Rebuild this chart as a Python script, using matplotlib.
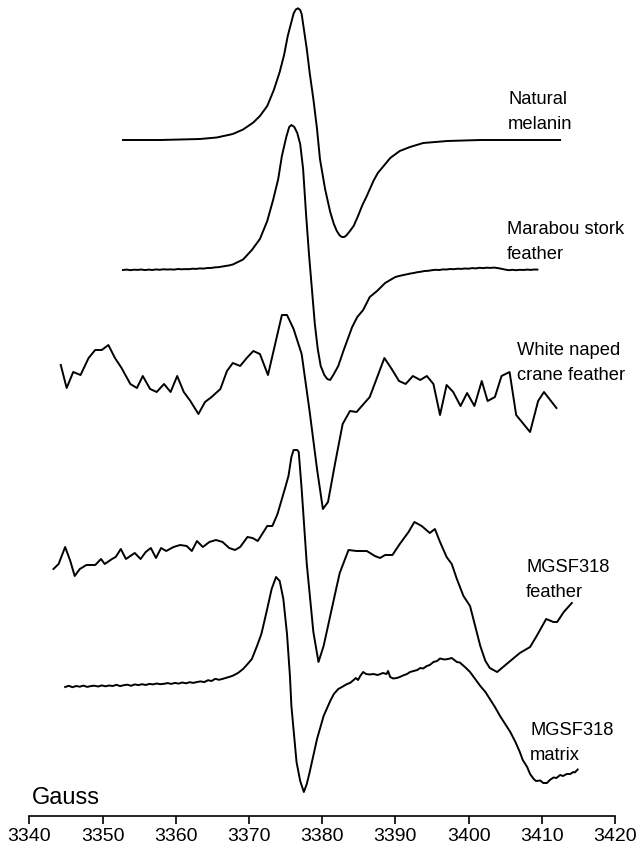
import matplotlib
matplotlib.use('Agg')
import matplotlib.pyplot as plt

plt.rcParams['font.family'] = ['Liberation Sans', 'DejaVu Sans']

# EPR spectra, field in Gauss, signal in arbitrary units (0 = baseline)
melanin_x = [3352.8, 3357.9, 3363.3, 3365.6, 3367.8, 3369.2, 3370.6, 3371.5, 3372.5, 3373.4,
             3374.2, 3374.8, 3375.3, 3375.8, 3376.1, 3376.4, 3376.7, 3377.0, 3377.2, 3377.5,
             3377.9, 3378.3, 3378.8, 3379.3, 3379.7, 3380.4, 3381.1, 3381.6, 3382.0, 3382.4,
             3382.7, 3383.0, 3383.3, 3383.8, 3384.3, 3384.9, 3385.5, 3386.1, 3387.0, 3387.6,
             3388.4, 3389.3, 3390.6, 3392.0, 3393.8, 3397.1, 3401.6, 3407.0, 3412.5]
melanin_y = [0, 0, 1, 2.5, 6, 10.5, 17.5, 24, 34, 50,
             68, 85, 104, 118, 126.5, 130.5, 131.7, 130, 126, 111,
             91, 67, 41, 11, -19, -49, -72, -84, -91, -95.5,
             -97, -97, -95.5, -91, -86, -76, -65, -56, -41, -33,
             -26, -18, -11, -7, -3, -1, 0, 0, 0]

marabou_x = [3352.8, 3353.3, 3353.8, 3354.3, 3354.8, 3355.3, 3355.8, 3356.3, 3356.8, 3357.3,
             3357.8, 3358.3, 3358.8, 3359.3, 3359.8, 3360.3, 3360.8, 3361.3, 3361.8, 3362.3,
             3362.8, 3363.3, 3363.8, 3364.3, 3364.8, 3365.3, 3365.8, 3366.3, 3366.8, 3367.3,
             3367.8, 3369.2, 3370.4, 3371.5, 3372.5, 3373.3, 3374.0, 3374.5, 3375.1, 3375.5,
             3375.8, 3376.2, 3376.6, 3377.0, 3377.4, 3377.8, 3378.2, 3378.6, 3379.0, 3379.4,
             3379.8, 3380.3, 3380.7, 3381.1, 3381.6, 3382.2, 3382.9, 3383.5, 3384.1, 3384.8,
             3385.6, 3386.5, 3387.5, 3388.6, 3390.0, 3390.5, 3391.0, 3391.5, 3392.0, 3392.5,
             3393.0, 3393.5, 3394.0, 3394.5, 3395.0, 3395.5, 3396.0, 3396.5, 3397.0, 3397.5,
             3398.0, 3398.5, 3399.0, 3399.5, 3400.0, 3400.5, 3401.0, 3401.5, 3402.0, 3402.5,
             3403.0, 3403.5, 3404.0, 3404.5, 3405.0, 3405.5, 3406.0, 3406.5, 3407.0, 3407.5,
             3408.0, 3408.5, 3409.0, 3409.4]
marabou_y = [0.0, 0.4, -0.2, 0.3, 0.1, 0.5, -0.1, 0.4, 0.0, 0.6,
             0.2, 0.7, 0.5, 0.6, 0.4, 1.0, 0.7, 0.9, 0.8, 1.3,
             1.1, 1.6, 1.4, 2.0, 2.0, 2.6, 2.8, 3.4, 4.0, 4.6,
             5.5, 10.5, 20, 31, 49, 70, 91, 114, 133, 143,
             145, 143, 137, 126, 101, 56, 16, -19, -54, -79,
             -96, -105, -109, -110, -104, -96, -81, -69, -57, -47,
             -40, -27, -21, -13, -7, -6.0, -5.2, -4.4, -3.6, -3.0,
             -2.2, -1.7, -1.0, -0.8, -0.2, 0.2, 0.0, 0.6, 0.5, 1.0,
             0.8, 1.3, 1.1, 1.5, 1.3, 1.9, 1.6, 2.2, 1.9, 2.3,
             2.1, 2.4, 1.9, 1.2, 0.4, -0.2, 0.2, -0.2, 0.2, 0.0,
             0.4, 0.1, 0.5, 0.4]

crane_x = [3344.3, 3345.1, 3346.0, 3347.0, 3348.1, 3349.0, 3349.9, 3350.8, 3351.7, 3352.6,
           3353.8, 3354.7, 3355.5, 3356.5, 3357.4, 3358.4, 3359.3, 3360.2, 3361.1, 3362.0,
           3363.1, 3364.0, 3364.9, 3366.1, 3367.0, 3367.8, 3368.8, 3369.7, 3370.6, 3371.5,
           3372.6, 3374.5, 3375.2, 3376.1, 3377.2, 3378.3, 3379.3, 3380.1, 3380.8, 3381.8,
           3382.8, 3383.8, 3384.7, 3386.5, 3388.5, 3389.5, 3390.5, 3391.4, 3392.4, 3393.4,
           3394.3, 3395.2, 3396.1, 3397.0, 3397.9, 3398.9, 3399.8, 3400.8, 3401.8, 3402.6,
           3403.6, 3404.5, 3405.6, 3406.5, 3408.4, 3409.5, 3410.3, 3412.0]
crane_y = [19, -4, 12, 9, 26, 34, 34, 39, 26, 16,
           0, -4, 8, -5, -8, 0, -8, 8, -8, -17,
           -30, -18, -13, -5, 13, 21, 18, 26, 33, 30,
           9, 69, 69, 55, 30, -28, -85, -125, -118, -78,
           -40, -27, -28, -13, 26, 15, 3, 0, 8, 4,
           8, 0, -31, -1, -8, -22, -9, -22, 3, -17,
           -13, 8, 12, -31, -48, -17, -8, -24]

feather_x = [3343.3, 3344.0, 3344.9, 3345.6, 3346.2, 3346.9, 3347.8, 3349.0, 3349.8, 3350.3,
             3351.3, 3351.8, 3352.5, 3353.2, 3354.4, 3355.2, 3355.9, 3356.6, 3357.3, 3358.0,
             3358.7, 3359.7, 3360.6, 3361.5, 3362.2, 3362.9, 3363.7, 3364.6, 3365.5, 3366.4,
             3367.3, 3368.1, 3368.8, 3369.8, 3370.5, 3371.2, 3371.9, 3372.5, 3373.2, 3373.9,
             3374.3, 3374.9, 3375.4, 3375.8, 3376.1, 3376.6, 3376.8, 3377.2, 3377.9, 3378.8,
             3379.5, 3380.2, 3381.1, 3382.0, 3382.4, 3383.6, 3384.7, 3386.1, 3387.2, 3387.9,
             3388.6, 3389.6, 3390.6, 3391.8, 3392.6, 3393.6, 3394.7, 3395.4, 3396.1, 3397.0,
             3397.7, 3398.4, 3399.3, 3400.2, 3400.9, 3401.6, 3402.3, 3402.9, 3403.9, 3405.2,
             3407.0, 3408.4, 3409.3, 3410.6, 3411.6, 3412.1, 3413.0, 3414.1]
feather_y = [-5, 0, 17, 3, -12, -5, -1, -1, 5, 0,
             5, 7, 15, 5, 11, 5, 12, 16, 6, 16,
             13, 17, 19, 18, 13, 23, 17, 22, 24, 22,
             16, 14, 17, 27, 26, 23, 31, 38, 38, 50,
             60, 75, 88, 107, 114, 114, 112, 75, 0, -68,
             -98, -82, -52, -22, -9, 14, 13, 13, 8, 6,
             9, 9, 20, 32, 42, 38, 31, 35, 22, 7,
             0, -15, -32, -42, -62, -82, -97, -104, -108, -100,
             -89, -83, -72, -55, -58, -58, -48, -39]

matrix_x = [3344.9, 3345.4, 3345.9, 3346.4, 3346.9, 3347.4, 3347.9, 3348.4, 3348.9, 3349.4,
            3349.9, 3350.4, 3350.9, 3351.4, 3351.9, 3352.4, 3352.9, 3353.4, 3353.9, 3354.4,
            3354.9, 3355.4, 3355.9, 3356.4, 3356.9, 3357.4, 3357.9, 3358.4, 3358.9, 3359.4,
            3359.9, 3360.4, 3360.9, 3361.4, 3361.9, 3362.4, 3362.9, 3363.4, 3363.9, 3364.4,
            3364.9, 3365.4, 3365.9, 3366.4, 3366.9, 3367.4, 3367.8, 3368.5, 3369.2, 3369.7,
            3370.4, 3371.1, 3371.7, 3372.4, 3373.1, 3373.7, 3374.2, 3374.7, 3375.2, 3375.6,
            3375.8, 3376.5, 3377.0, 3377.5, 3377.9, 3378.3, 3379.3, 3380.2, 3381.1, 3381.6,
            3382.2, 3382.7, 3383.4, 3383.8, 3384.3, 3384.6, 3384.9, 3385.2, 3385.6, 3386.0,
            3386.5, 3387.0, 3387.6, 3388.3, 3388.8, 3389.0, 3389.3, 3389.7, 3390.2, 3390.6,
            3391.2, 3391.6, 3392.0, 3392.5, 3393.0, 3393.4, 3393.8, 3394.3, 3394.7, 3395.2,
            3395.7, 3396.1, 3396.7, 3397.2, 3397.7, 3398.4, 3398.8, 3399.5, 3400.2, 3400.9,
            3401.6, 3402.3, 3402.9, 3403.6, 3404.3, 3405.0, 3405.7, 3406.4, 3407.0, 3407.4,
            3408.0, 3408.4, 3408.9, 3409.2, 3409.8, 3410.2, 3410.7, 3411.1, 3411.6, 3412.0,
            3412.5, 3412.9, 3413.4, 3413.9, 3414.3, 3414.5, 3414.9]
matrix_y = [0, 1.2, -0.2, 1.0, 0.3, 1.4, 0.1, 0.9, 1.3, 0.5,
            1.6, 0.7, 1.5, 1.0, 2.2, 0.9, 1.8, 2.3, 1.2, 2.6,
            1.9, 2.8, 2.0, 3.1, 2.6, 3.5, 2.8, 3.2, 3.9, 3.1,
            4.1, 3.4, 4.5, 3.7, 4.8, 4.1, 5.0, 5.6, 4.9, 6.8,
            6.0, 8.2, 7.2, 8.1, 9.2, 10.3, 11.3, 14, 18, 22,
            28, 41, 53, 75, 98, 110, 106, 88, 53, 11,
            -19, -75, -94, -105, -97, -85, -52, -29, -14, -7,
            -2, 0, 3, 4, 7, 9, 7, 11, 15, 13,
            12.5, 13, 12, 14, 13, 16, 10, 8.5, 9, 10,
            12, 13, 15, 16, 17, 19, 18.5, 21, 22, 25,
            26, 28.5, 27.5, 28, 29, 25, 24.5, 20, 15, 8,
            1, -5, -12, -20, -29, -37, -45, -55, -65, -73,
            -80, -87, -92, -94, -93.5, -96, -96, -93, -90.5, -91,
            -88, -89, -87, -87, -85, -85.5, -82.5]

traces = [
    (melanin_x, melanin_y, 'Natural\nmelanin'),
    (marabou_x, marabou_y, 'Marabou stork\nfeather'),
    (crane_x, crane_y, 'White naped\ncrane feather'),
    (feather_x, feather_y, 'MGSF318\nfeather'),
    (matrix_x, matrix_y, 'MGSF318\nmatrix'),
]

# vertical stacking offsets and label spots (pixels of the 641x845 canvas)
offsets = [676, 546, 432, 252, 129]
label_px = [(508, 91), (507, 221), (517, 342), (526, 559), (530, 722)]

W, H = 641, 845
fig = plt.figure(figsize=(W / 100, H / 100), dpi=100)
ax = fig.add_axes([29.3 / W, 28 / H, (615 - 29.3) / W, 817 / H])

for (xs, ys, name), off in zip(traces, offsets):
    ax.plot(xs, [v + off for v in ys], color='black', lw=1.4, solid_joinstyle='round')

for (xs, ys, name), (px, py) in zip(traces, label_px):
    fig.text(px / W, 1 - py / H, name, fontsize=13.2, va='top', ha='left',
             linespacing=1.62)

ax.set_xlim(3340, 3420)
ax.set_ylim(0, 817)
ax.set_xticks(range(3340, 3421, 10))
ax.tick_params(axis='x', direction='out', length=6, width=1.2, pad=2, labelsize=14)
ax.set_yticks([])
for s in ['top', 'right', 'left']:
    ax.spines[s].set_visible(False)
ax.spines['bottom'].set_linewidth(1.2)
ax.patch.set_alpha(0)

fig.text(32 / W, 1 - 787 / H, 'Gauss', fontsize=17, va='top', ha='left')

fig.savefig('out.png', dpi=100)
